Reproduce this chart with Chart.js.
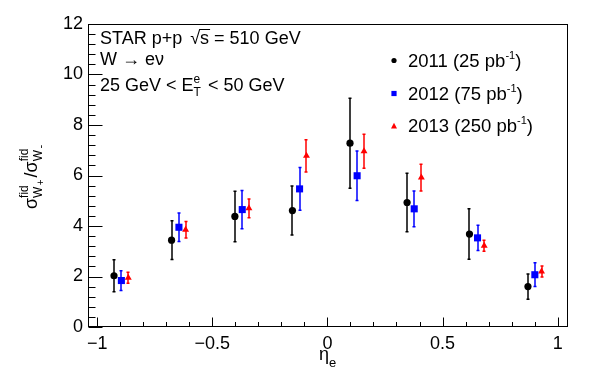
<!DOCTYPE html>
<html><head><meta charset="utf-8">
<script src="https://cdn.jsdelivr.net/npm/chart.js@4.4.1/dist/chart.umd.min.js"></script>
<style>html,body{margin:0;padding:0;background:#fff;}#wrap{width:600px;height:378px;}</style>
</head><body><div id="wrap"><canvas id="c" width="600" height="378"></canvas></div>
<script>
// ---- data ----
const eta2011 = [-0.927, -0.677, -0.402, -0.152, 0.098, 0.346, 0.617, 0.871];
const ratio2011 = [2.03, 3.44, 4.38, 4.61, 7.28, 4.93, 3.68, 1.60];
const err2011 = [0.63, 0.77, 1.00, 0.97, 1.78, 1.16, 1.00, 0.50];

const eta2012 = [-0.895, -0.645, -0.370, -0.121, 0.129, 0.377, 0.652, 0.901];
const ratio2012 = [1.84, 3.95, 4.65, 5.47, 5.99, 4.68, 3.53, 2.07];
const err2012 = [0.39, 0.56, 0.76, 0.85, 0.98, 0.71, 0.50, 0.47];

const eta2013 = [-0.865, -0.616, -0.341, -0.091, 0.159, 0.408, 0.681, 0.930];
const ratio2013 = [1.95, 3.85, 4.70, 6.78, 6.96, 5.92, 3.22, 2.20];
const err2013 = [0.22, 0.33, 0.37, 0.64, 0.67, 0.53, 0.22, 0.22];

const seriesNames = ['2011 (25 pb', '2012 (75 pb', '2013 (250 pb'];
const xTicks = [-1, -0.5, 0, 0.5, 1];
const yTicks = [0, 2, 4, 6, 8, 10, 12];

const FONT = '"Liberation Sans", Arial, Helvetica, sans-serif';

function pts(xs, ys, es) { return xs.map((x, i) => ({ x: x, y: ys[i], err: es[i] })); }

function drawParts(ctx, x, y, parts, baseSize) {
  const bs = baseSize || 18;
  for (const p of parts) {
    ctx.font = (p.size || bs) + 'px ' + FONT;
    let w = 0;
    if (p.stack) {
      let mw = 0;
      for (const s of p.stack) {
        ctx.font = (s.size || 12) + 'px ' + FONT;
        ctx.fillText(s.t, x, y + (s.dy || 0));
        mw = Math.max(mw, ctx.measureText(s.t).width);
      }
      w = mw;
    } else {
      ctx.fillText(p.t, x, y + (p.dy || 0));
      w = ctx.measureText(p.t).width;
      if (p.over) {
        ctx.save(); ctx.lineWidth = 1; ctx.strokeStyle = '#000';
        ctx.beginPath(); ctx.moveTo(x - 1, y - 14.5); ctx.lineTo(x + w + 1, y - 14.5); ctx.stroke(); ctx.restore();
      }
    }
    x += w + (p.gap || 0);
  }
  return x;
}

function marker(ctx, style, x, y, s, color) {
  ctx.fillStyle = color;
  ctx.beginPath();
  if (style === 'circle') { ctx.arc(x, y, s, 0, Math.PI * 2); }
  else if (style === 'rect') { ctx.rect(x - s, y - s, 2 * s, 2 * s); }
  else { ctx.moveTo(x, y - s * 1.1); ctx.lineTo(x + s, y + s * 0.8); ctx.lineTo(x - s, y + s * 0.8); ctx.closePath(); }
  ctx.fill();
}

const errorBars = {
  id: 'errorBars',
  beforeDatasetsDraw(chart) {
    const ctx = chart.ctx, xs = chart.scales.x, ys = chart.scales.y;
    ctx.save();
    chart.data.datasets.forEach(ds => {
      ctx.strokeStyle = ds.barColor; ctx.lineWidth = 1.5;
      ds.data.forEach(p => {
        const px = Math.round(xs.getPixelForValue(p.x));
        const y1 = ys.getPixelForValue(p.y - p.err), y2 = ys.getPixelForValue(p.y + p.err);
        ctx.beginPath();
        ctx.moveTo(px, y1); ctx.lineTo(px, y2);
        ctx.moveTo(px - 1.5, y1); ctx.lineTo(px + 1.5, y1);
        ctx.moveTo(px - 1.5, y2); ctx.lineTo(px + 1.5, y2);
        ctx.stroke();
      });
    });
    ctx.restore();
  }
};

const decor = {
  id: 'decor',
  afterDraw(chart) {
    const ctx = chart.ctx, a = chart.chartArea, xs = chart.scales.x, ys = chart.scales.y;
    ctx.save();
    // frame
    ctx.strokeStyle = '#000'; ctx.lineWidth = 1;
    const L = Math.round(a.left) + 0.5, R = Math.round(a.right) - 0.5, T = Math.round(a.top) + 0.5, B = Math.round(a.bottom) - 0.5;
    ctx.strokeRect(L, T, R - L, B - T);
    // x ticks
    ctx.beginPath();
    for (let i = -10; i <= 10; i++) {
      const v = i / 10;
      const px = Math.round(xs.getPixelForValue(v)) + 0.5;
      const len = (i % 5 === 0) ? 9 : 4.5;
      ctx.moveTo(px, B); ctx.lineTo(px, B - len);
    }
    // y ticks
    for (let i = 0; i <= 30; i++) {
      const v = i * 0.4;
      const py = Math.round(ys.getPixelForValue(v)) + 0.5;
      const len = (i % 5 === 0) ? 14 : 7;
      ctx.moveTo(L, py); ctx.lineTo(L + len, py);
    }
    ctx.stroke();

    ctx.fillStyle = '#000';
    ctx.textBaseline = 'alphabetic'; ctx.textAlign = 'left';
    // info text
    drawParts(ctx, 100, 44, [{ t: 'STAR p+p ', gap: 3 }, { t: '\u221A' }, { t: 's', over: true }, { t: ' = 510 GeV' }]);
    drawParts(ctx, 100, 65, [{ t: 'W \u2192 e\u03BD' }]);
    drawParts(ctx, 100, 91, [{ t: '25 GeV < E' }, { stack: [{ t: 'e', dy: -8 }, { t: 'T', dy: 5 }], gap: 2 }, { t: ' < 50 GeV' }]);

    // legend
    const styles = ['circle', 'rect', 'triangle'];
    const cols = ['#000000', '#0000ff', '#ff0000'];
    const sizes = [2.6, 2.6, 3];
    const base = [66.5, 99.5, 132];
    for (let i = 0; i < 3; i++) {
      marker(ctx, styles[i], 394, base[i] - 6, sizes[i], cols[i]);
      ctx.fillStyle = '#000';
      drawParts(ctx, 408, base[i], [{ t: seriesNames[i] }, { t: '-1', size: 11, dy: -8 }, { t: ')' }], 18.5);
    }

    // x title
    drawParts(ctx, 319, 360, [{ t: '\u03B7' }, { t: 'e', size: 13, dy: 7 }]);

    // y title (rotated)
    ctx.translate(37, 209);
    ctx.rotate(-Math.PI / 2);
    drawParts(ctx, 0, 0, [
      { t: '\u03C3' },
      { stack: [{ t: 'fid', dy: -9 }, { t: 'W', dy: 5 }] },
      { t: '+', size: 10, dy: 7, gap: 2 },
      { t: '/' },
      { t: '\u03C3' },
      { stack: [{ t: 'fid', dy: -9 }, { t: 'W', dy: 5 }] },
      { t: '-', size: 11, dy: 7 }
    ]);
    ctx.restore();
  }
};

new Chart(document.getElementById('c'), {
  type: 'scatter',
  data: {
    datasets: [
      { label: seriesNames[0], data: pts(eta2011, ratio2011, err2011), pointStyle: 'circle', pointRadius: 3.6, backgroundColor: '#000', borderWidth: 0, barColor: '#000' },
      { label: seriesNames[1], data: pts(eta2012, ratio2012, err2012), pointStyle: 'rect', pointRadius: 5, backgroundColor: '#0000ff', borderWidth: 0, barColor: '#0000ff' },
      { label: seriesNames[2], data: pts(eta2013, ratio2013, err2013), pointStyle: 'triangle', pointRadius: 4, backgroundColor: '#ff0000', borderWidth: 0, barColor: '#ff0000' }
    ]
  },
  options: {
    responsive: false, animation: false, devicePixelRatio: 1,
    layout: { padding: { top: 24, right: 32, left: 0, bottom: 0 } },
    plugins: { legend: { display: false }, tooltip: { enabled: false } },
    scales: {
      x: {
        type: 'linear', min: -1.04, max: 1.045,
        afterBuildTicks: s => { s.ticks = xTicks.map(v => ({ value: v })); },
        afterFit: s => { s.height = 51; },
        grid: { display: false, drawTicks: false }, border: { display: false },
        ticks: { autoSkip: false, maxRotation: 0, padding: 6, color: '#000', font: { family: FONT, size: 18 },
          callback: v => String(v).replace('-', '\u2212') }
      },
      y: {
        type: 'linear', min: 0, max: 12,
        afterBuildTicks: s => { s.ticks = yTicks.map(v => ({ value: v })); },
        afterFit: s => { s.width = 88; },
        grid: { display: false, drawTicks: false }, border: { display: false },
        ticks: { autoSkip: false, padding: 5, color: '#000', font: { family: FONT, size: 18 } }
      }
    }
  },
  plugins: [errorBars, decor]
});
</script></body></html>
